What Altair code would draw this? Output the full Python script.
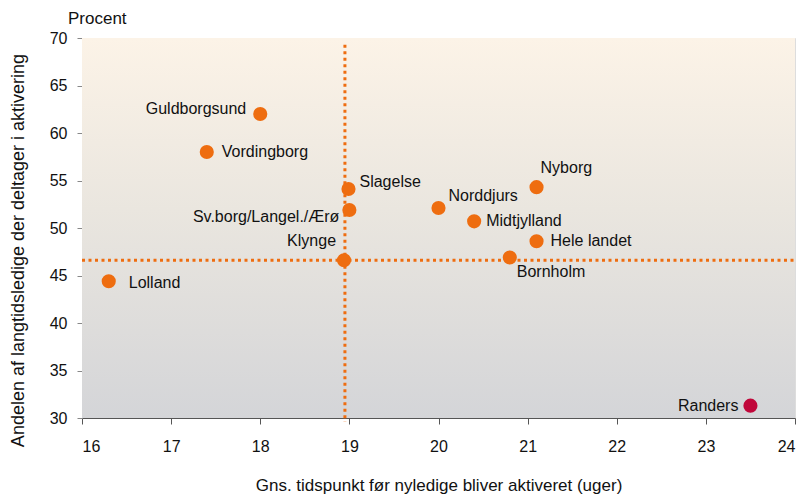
import altair as alt
import pandas as pd

names = ["Guldborgsund", "Vordingborg", "Slagelse", "Sv.borg/Langel./Ærø", "Klynge",
         "Lolland", "Norddjurs", "Midtjylland", "Nyborg", "Hele landet", "Bornholm", "Randers"]
weeks = [18.0, 17.4, 18.99, 19.0, 18.94, 16.3, 20.0, 20.4, 21.1, 21.1, 20.8, 23.5]
shares = [62.0, 58.0, 54.1, 51.9, 46.6, 44.4, 52.1, 50.7, 54.3, 48.6, 46.9, 31.3]
groups = ["Øvrige"] * 11 + ["Randers"]

ref_x = 18.95
ref_y = 46.6

# label placement (style only): align, dx, dy
label_style = {
    "Guldborgsund": ("right", -14, -5),
    "Vordingborg": ("left", 15, 0),
    "Slagelse": ("left", 11, -7),
    "Sv.borg/Langel./Ærø": ("right", -10, 7),
    "Klynge": ("right", -8, -19),
    "Lolland": ("left", 20, 2),
    "Norddjurs": ("left", 10, -12),
    "Midtjylland": ("left", 12, 0),
    "Nyborg": ("left", 4, -19),
    "Hele landet": ("left", 14, 0),
    "Bornholm": ("left", 7, 15),
    "Randers": ("right", -12, 0),
}

df = pd.DataFrame({"name": names, "x": weeks, "y": shares, "group": groups})

FONT = "Liberation Sans"
W, H = 713, 380

xscale = alt.Scale(domain=[16, 24], nice=False, zero=False)
yscale = alt.Scale(domain=[30, 70], nice=False, zero=False)

bg = alt.Chart(pd.DataFrame({"a": [0]})).mark_rect(
    color=alt.Gradient(
        gradient="linear", x1=0, y1=0, x2=0, y2=1,
        stops=[alt.GradientStop(color="#FCF3E7", offset=0),
               alt.GradientStop(color="#EAE6DF", offset=0.45),
               alt.GradientStop(color="#D4D5D8", offset=1)],
    )
).encode(x=alt.value(0), x2=alt.value(W), y=alt.value(0), y2=alt.value(H))

base = alt.Chart(df)

points = base.mark_circle(size=200, opacity=1).encode(
    x=alt.X("x:Q", scale=xscale,
            axis=alt.Axis(values=list(range(16, 25)), format="d",
                          title="Gns. tidspunkt før nyledige bliver aktiveret (uger)",
                          grid=False, domainColor="#555555", tickColor="#555555", tickSize=6,
                          labelFont=FONT, labelFontSize=16, labelColor="#111111", labelPadding=14,
                          titleFont=FONT, titleFontSize=17, titleFontWeight="normal", titleColor="#111111",
                          titleY=67, titleBaseline="middle")),
    y=alt.Y("y:Q", scale=yscale,
            axis=alt.Axis(values=list(range(30, 71, 5)), format="d",
                          title="Andelen af langtidsledige der deltager i aktivering",
                          grid=False, domainColor="#888888", tickColor="#888888", tickSize=5,
                          labelFont=FONT, labelFontSize=16, labelColor="#111111", labelPadding=10,
                          titleFont=FONT, titleFontSize=18, titleFontWeight="normal", titleColor="#111111",
                          titleX=-64, titleY=212, titleAngle=-90, titleBaseline="middle", titleAlign="center")),
    color=alt.Color("group:N", scale=alt.Scale(domain=["Øvrige", "Randers"], range=["#EE6D10", "#C0073A"]),
                    legend=None),
)

label_layers = []
for nm, (al, dx, dy) in label_style.items():
    label_layers.append(
        base.transform_filter(alt.datum.name == nm).mark_text(
            align=al, baseline="middle", dx=dx, dy=dy, font=FONT, fontSize=16, color="#111111"
        ).encode(x=alt.X("x:Q", scale=xscale), y=alt.Y("y:Q", scale=yscale), text="name:N")
    )

vline = alt.Chart(pd.DataFrame({"x": [ref_x], "ytop": [69.3]})).mark_rule(
    color="#EE6D10", strokeWidth=3, strokeDash=[3, 3.5]
).encode(x=alt.X("x:Q", scale=xscale), y=alt.Y("ytop:Q", scale=yscale), y2=alt.value(H + 4))

hline = alt.Chart(pd.DataFrame({"y": [ref_y]})).mark_rule(
    color="#EE6D10", strokeWidth=3, strokeDash=[3, 3.5]
).encode(y=alt.Y("y:Q", scale=yscale), x=alt.value(0), x2=alt.value(W))

procent = alt.Chart(pd.DataFrame({"t": ["Procent"]})).mark_text(
    align="left", baseline="middle", font=FONT, fontSize=17, color="#111111"
).encode(x=alt.value(-14), y=alt.value(-19), text="t:N")

chart = alt.layer(bg, vline, hline, points, *label_layers, procent).properties(
    width=W, height=H,
    autosize=alt.AutoSizeParams(type="none"),
    padding={"left": 74, "top": 30, "right": 2, "bottom": 78},
).configure_view(stroke=None).configure(background="white")

chart.save("out.html", embed_options={"renderer": "svg", "actions": False})
